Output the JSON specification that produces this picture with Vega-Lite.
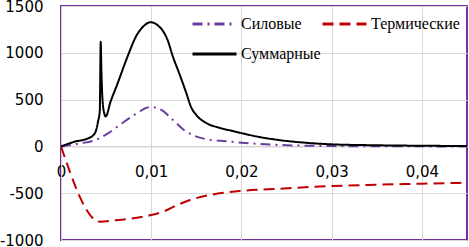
{
  "$schema": "https://vega.github.io/schema/vega-lite/v6.json",
  "width": 406,
  "height": 234,
  "autosize": "none",
  "padding": {"left": 61, "top": 6, "right": 2, "bottom": 7},
  "background": "white",
  "config": {
    "locale": {"number": {"decimal": ",", "thousands": "", "grouping": [3], "currency": ["", ""], "minus": "-"}},
    "view": {"stroke": "#7030A0", "strokeWidth": 2},
    "axis": {"labelFont": "DejaVu Sans", "labelFontSize": 15, "labelColor": "#000", "gridColor": "#d9d9d9", "gridWidth": 1, "ticks": false, "tickSize": 0, "title": null},
    "legend": {"labelFont": "Liberation Serif", "labelFontSize": 16, "labelColor": "#000"}
  },
  "data": {"values": [
    {"s": "Силовые", "x": 0, "y": 0},
    {"s": "Силовые", "x": 0.002, "y": 30},
    {"s": "Силовые", "x": 0.0038, "y": 68},
    {"s": "Силовые", "x": 0.0052, "y": 140},
    {"s": "Силовые", "x": 0.0065, "y": 228},
    {"s": "Силовые", "x": 0.0077, "y": 310},
    {"s": "Силовые", "x": 0.0087, "y": 371},
    {"s": "Силовые", "x": 0.0094, "y": 410},
    {"s": "Силовые", "x": 0.01, "y": 422},
    {"s": "Силовые", "x": 0.0106, "y": 412},
    {"s": "Силовые", "x": 0.0113, "y": 380},
    {"s": "Силовые", "x": 0.012, "y": 320},
    {"s": "Силовые", "x": 0.0128, "y": 247},
    {"s": "Силовые", "x": 0.0137, "y": 170},
    {"s": "Силовые", "x": 0.0146, "y": 122},
    {"s": "Силовые", "x": 0.0165, "y": 70},
    {"s": "Силовые", "x": 0.0183, "y": 55},
    {"s": "Силовые", "x": 0.02, "y": 40},
    {"s": "Силовые", "x": 0.022, "y": 26},
    {"s": "Силовые", "x": 0.024, "y": 16},
    {"s": "Силовые", "x": 0.027, "y": 8},
    {"s": "Силовые", "x": 0.03, "y": 3},
    {"s": "Силовые", "x": 0.035, "y": 1},
    {"s": "Силовые", "x": 0.045, "y": 0},
    {"s": "Термические", "x": 0, "y": 0},
    {"s": "Термические", "x": 0.0043, "y": -804},
    {"s": "Термические", "x": 0.006, "y": -790},
    {"s": "Термические", "x": 0.008, "y": -768},
    {"s": "Термические", "x": 0.01, "y": -733},
    {"s": "Термические", "x": 0.0115, "y": -690},
    {"s": "Термические", "x": 0.0128, "y": -630},
    {"s": "Термические", "x": 0.0143, "y": -573},
    {"s": "Термические", "x": 0.0165, "y": -519},
    {"s": "Термические", "x": 0.0185, "y": -490},
    {"s": "Термические", "x": 0.0198, "y": -476},
    {"s": "Термические", "x": 0.023, "y": -459},
    {"s": "Термические", "x": 0.028, "y": -432},
    {"s": "Термические", "x": 0.034, "y": -412},
    {"s": "Термические", "x": 0.04, "y": -398},
    {"s": "Термические", "x": 0.045, "y": -388},
    {"s": "Суммарные", "x": 0, "y": 0},
    {"s": "Суммарные", "x": 0.0015, "y": 50},
    {"s": "Суммарные", "x": 0.003, "y": 86},
    {"s": "Суммарные", "x": 0.0036, "y": 122},
    {"s": "Суммарные", "x": 0.0039, "y": 175},
    {"s": "Суммарные", "x": 0.0041, "y": 264},
    {"s": "Суммарные", "x": 0.0043, "y": 380},
    {"s": "Суммарные", "x": 0.0044, "y": 1118},
    {"s": "Суммарные", "x": 0.00448, "y": 800},
    {"s": "Суммарные", "x": 0.0046, "y": 500},
    {"s": "Суммарные", "x": 0.0048, "y": 350},
    {"s": "Суммарные", "x": 0.00495, "y": 320},
    {"s": "Суммарные", "x": 0.0055, "y": 480},
    {"s": "Суммарные", "x": 0.0062, "y": 654},
    {"s": "Суммарные", "x": 0.0073, "y": 941},
    {"s": "Суммарные", "x": 0.0084, "y": 1190},
    {"s": "Суммарные", "x": 0.0091, "y": 1279},
    {"s": "Суммарные", "x": 0.0099, "y": 1326},
    {"s": "Суммарные", "x": 0.0109, "y": 1279},
    {"s": "Суммарные", "x": 0.0118, "y": 1140},
    {"s": "Суммарные", "x": 0.0124, "y": 960},
    {"s": "Суммарные", "x": 0.0131, "y": 781},
    {"s": "Суммарные", "x": 0.0139, "y": 567},
    {"s": "Суммарные", "x": 0.0144, "y": 424},
    {"s": "Суммарные", "x": 0.015, "y": 335},
    {"s": "Суммарные", "x": 0.0161, "y": 250},
    {"s": "Суммарные", "x": 0.0176, "y": 198},
    {"s": "Суммарные", "x": 0.019, "y": 165},
    {"s": "Суммарные", "x": 0.02, "y": 142},
    {"s": "Суммарные", "x": 0.022, "y": 100},
    {"s": "Суммарные", "x": 0.024, "y": 70},
    {"s": "Суммарные", "x": 0.027, "y": 40},
    {"s": "Суммарные", "x": 0.03, "y": 22},
    {"s": "Суммарные", "x": 0.035, "y": 12},
    {"s": "Суммарные", "x": 0.04, "y": 7},
    {"s": "Суммарные", "x": 0.045, "y": 4}
  ]},
  "mark": {"type": "line", "strokeWidth": 2, "interpolate": "monotone", "clip": true},
  "encoding": {
    "x": {"field": "x", "type": "quantitative",
      "scale": {"domain": [0, 0.045], "nice": false, "zero": false},
      "axis": {"values": [0, 0.01, 0.02, 0.03, 0.04], "format": ".2~f", "orient": "bottom", "offset": -93.6, "labelFlush": false, "labelPadding": 18, "domain": true, "domainColor": "#d0d0d0", "grid": true}},
    "y": {"field": "y", "type": "quantitative",
      "scale": {"domain": [-1000, 1500], "nice": false},
      "axis": {"values": [-1000, -500, 0, 500, 1000, 1500], "format": "d", "labelPadding": 18, "domain": true, "domainColor": "#d0d0d0", "grid": true}},
    "color": {"field": "s", "type": "nominal",
      "scale": {"domain": ["Силовые", "Термические", "Суммарные"], "range": ["#6B3FA0", "#C00000", "#000000"]},
      "legend": {"title": null, "orient": "none", "legendX": 130, "legendY": 10, "direction": "horizontal", "columns": 2, "columnPadding": 0, "rowPadding": 14, "clipHeight": 16, "padding": 0, "symbolType": "stroke", "symbolSize": 1936, "symbolStrokeWidth": 3, "labelFont": "Liberation Serif", "labelFontSize": 16, "labelColor": "#000", "labelOffset": 3}},
    "strokeDash": {"field": "s", "type": "nominal",
      "scale": {"domain": ["Силовые", "Термические", "Суммарные"], "range": [[10, 5, 2, 5], [11, 6], [1, 0]]},
      "legend": {"title": null, "orient": "none", "legendX": 130, "legendY": 10, "direction": "horizontal", "columns": 2, "columnPadding": 0, "rowPadding": 14, "clipHeight": 16, "padding": 0, "symbolType": "stroke", "symbolSize": 1936, "symbolStrokeWidth": 3, "labelFont": "Liberation Serif", "labelFontSize": 16, "labelColor": "#000", "labelOffset": 3}}
  }
}
